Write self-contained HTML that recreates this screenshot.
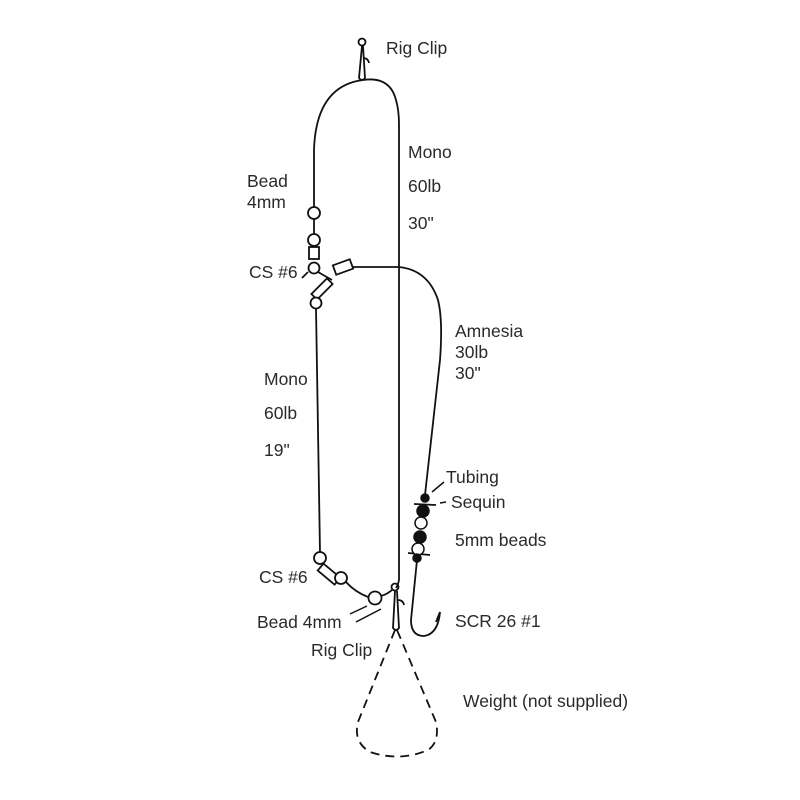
<!DOCTYPE html>
<html><head><meta charset="utf-8"><style>
body{margin:0;background:#fff}
svg{display:block}
text{font-family:"Liberation Sans",sans-serif;font-size:17.5px;fill:#2a2a2a}
</style></head><body>
<svg width="800" height="800" viewBox="0 0 800 800">
<g fill="none" stroke="#111" stroke-width="1.8">
<circle cx="362" cy="42" r="3.5"/>
<path d="M362 46 L359 78 Q362 82 365 78 L363 46"/>
<path d="M363 58 Q368 58 369 63"/>
<path d="M314 208 L314 150 Q316 86 363 80 Q390 76 396 100 Q399 110 399 125 L399 580 Q398 585 396 588"/>
<circle cx="314" cy="213" r="6" fill="#fff"/>
<line x1="314" y1="219" x2="314" y2="234"/>
<circle cx="314" cy="240" r="6" fill="#fff"/>
<rect x="309" y="247" width="10" height="12" fill="#fff"/>
<circle cx="314" cy="268" r="5.5" fill="#fff"/>
<path d="M308 272 L302 278"/>
<path d="M318 272 L332 280"/>
<rect x="334" y="262" width="18" height="10" transform="rotate(-20 343 267)" fill="#fff"/>
<rect x="318" y="278" width="8" height="22" transform="rotate(45 322 289)" fill="#fff"/>
<circle cx="316" cy="303" r="5.5" fill="#fff"/>
<path d="M316 308 L320 552"/>
<path d="M352 267 Q370 267 399 267 Q428 270 438 300 Q443 320 440 360 L425 495"/>
<circle cx="320" cy="558" r="6" fill="#fff"/>
<rect x="324" y="562" width="9" height="22" transform="rotate(-50 330 573)" fill="#fff"/>
<circle cx="341" cy="578" r="6" fill="#fff"/>
<path d="M346 582 Q355 592 368 597"/>
<circle cx="375" cy="598" r="6.5" fill="#fff"/>
<path d="M381 596 Q388 594 393 589"/>
<circle cx="395" cy="587" r="3.5"/>
<path d="M395 591 L393 628 Q396 632 399 628 L397 591"/>
<path d="M398 600 Q403 600 404 605"/>
<path d="M395 630 L358 722 Q353 742 370 752 Q400 762 428 750 Q440 742 436 722 L397 630" stroke-dasharray="9 6"/>
<path d="M417 560 L411 620 Q411 636 424 636 Q438 634 440 612"/>
<path d="M440 612 L436 622"/>
<line x1="414" y1="504" x2="436" y2="505"/>
<line x1="408" y1="553" x2="430" y2="555"/>
</g>
<g stroke="#111" stroke-width="1.5">
<circle cx="425" cy="498" r="4" fill="#111"/>
<circle cx="423" cy="511" r="6" fill="#111"/>
<circle cx="421" cy="523" r="6" fill="#fff"/>
<circle cx="420" cy="537" r="6" fill="#111"/>
<circle cx="418" cy="549" r="6" fill="#fff"/>
<circle cx="417" cy="558" r="4" fill="#111"/>
<line x1="444" y1="482" x2="432" y2="492"/>
<line x1="446" y1="502" x2="440" y2="503"/>
<line x1="350" y1="614" x2="367" y2="606"/>
<line x1="356" y1="622" x2="381" y2="609"/>
</g>
<text x="386" y="54">Rig Clip</text>
<text x="408" y="158">Mono</text>
<text x="408" y="192">60lb</text>
<text x="408" y="229">30"</text>
<text x="247" y="187">Bead</text>
<text x="247" y="208">4mm</text>
<text x="249" y="278">CS #6</text>
<text x="455" y="337">Amnesia</text>
<text x="455" y="358">30lb</text>
<text x="455" y="379">30"</text>
<text x="264" y="385">Mono</text>
<text x="264" y="419">60lb</text>
<text x="264" y="456">19"</text>
<text x="446" y="483">Tubing</text>
<text x="451" y="508">Sequin</text>
<text x="455" y="546">5mm beads</text>
<text x="259" y="583">CS #6</text>
<text x="257" y="628">Bead 4mm</text>
<text x="311" y="656">Rig Clip</text>
<text x="455" y="627">SCR 26 #1</text>
<text x="463" y="707">Weight (not supplied)</text>
</svg>
</body></html>
